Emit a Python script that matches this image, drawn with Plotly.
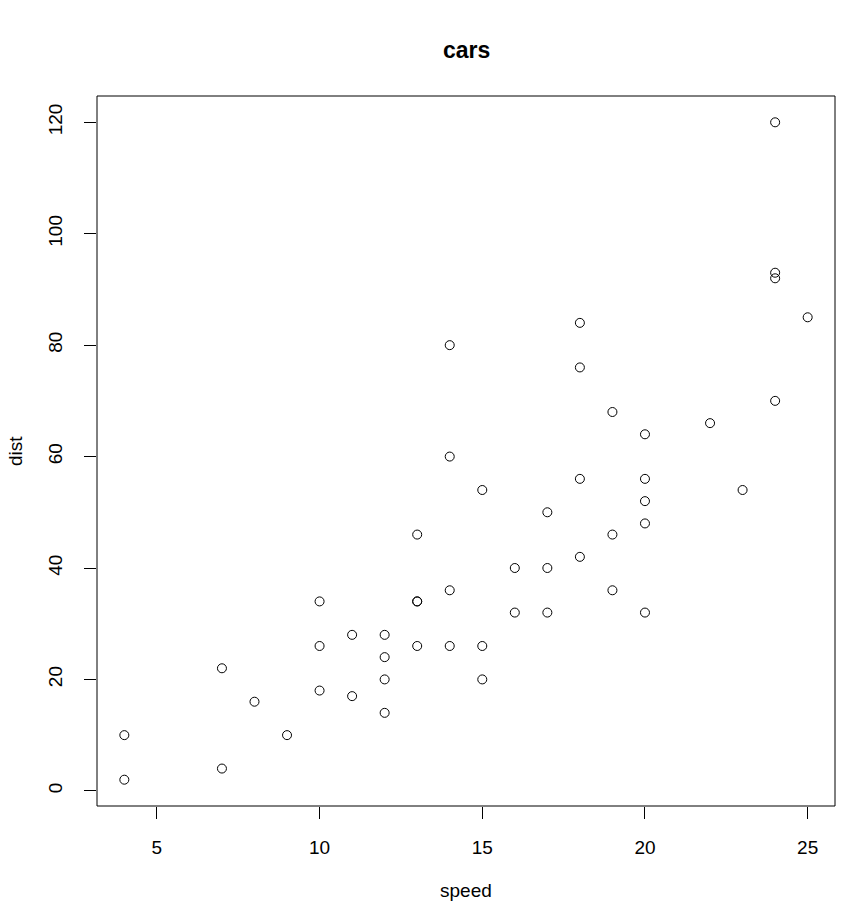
import plotly.graph_objects as go

speed = [4, 4, 7, 7, 8, 9, 10, 10, 10, 11, 11, 12, 12, 12, 12, 13, 13, 13, 13, 14, 14, 14, 14,
         15, 15, 15, 16, 16, 17, 17, 17, 18, 18, 18, 18, 19, 19, 19, 20, 20, 20, 20, 20,
         22, 23, 24, 24, 24, 24, 25]
dist = [2, 10, 4, 22, 16, 10, 18, 26, 34, 17, 28, 14, 20, 24, 28, 26, 34, 34, 46, 26, 36, 60, 80,
        20, 26, 54, 32, 40, 32, 40, 50, 42, 56, 76, 84, 36, 46, 68, 32, 48, 52, 56, 64,
        66, 54, 70, 92, 93, 120, 85]
x_ticks = [5, 10, 15, 20, 25]
y_ticks = [0, 20, 40, 60, 80, 100, 120]

font = "Liberation Sans, Arial, sans-serif"

fig = go.Figure(go.Scatter(
    x=speed, y=dist, mode="markers",
    marker=dict(symbol="circle-open", size=9, color="black", line=dict(width=1, color="black")),
    hoverinfo="x+y",
))

xr = [min(speed), max(speed)]
yr = [min(dist), max(dist)]
xpad = (xr[1] - xr[0]) * 0.04
ypad = (yr[1] - yr[0]) * 0.04

fig.update_layout(
    width=848, height=907,
    margin=dict(l=97, r=13, t=96, b=101),
    paper_bgcolor="white", plot_bgcolor="white",
    showlegend=False,
    font=dict(family=font, size=19, color="black"),
    xaxis=dict(range=[xr[0] - xpad, xr[1] + xpad], tickvals=x_ticks, ticks="outside",
               ticklen=12, tickwidth=1, tickcolor="black", showgrid=False, zeroline=False,
               showline=False, ticklabelstandoff=12, tickfont=dict(size=19)),
    yaxis=dict(range=[yr[0] - ypad, yr[1] + ypad], tickvals=y_ticks, ticks="outside",
               ticklen=12, tickwidth=1, tickcolor="black", showgrid=False, zeroline=False,
               showline=False, tickangle=-90, ticklabelstandoff=14, tickfont=dict(size=19)),
    shapes=[dict(type="rect", xref="paper", yref="paper", x0=0, x1=1, y0=0, y1=1,
                 line=dict(color="black", width=1))],
    annotations=[
        dict(text="<b>cars</b>", xref="paper", yref="paper", x=0.5, y=1, yanchor="middle",
             yshift=96 - 50, showarrow=False, font=dict(size=23)),
        dict(text="speed", xref="paper", yref="paper", x=0.5, y=0, yanchor="middle",
             yshift=-(890 - 806), showarrow=False, font=dict(size=19)),
        dict(text="dist", xref="paper", yref="paper", x=0, y=0.5, xanchor="center",
             xshift=-(97 - 15), textangle=-90, showarrow=False, font=dict(size=19)),
    ],
)

fig.write_html("out.html", config={"displayModeBar": False},
               post_script="document.body.style.margin='0';")
